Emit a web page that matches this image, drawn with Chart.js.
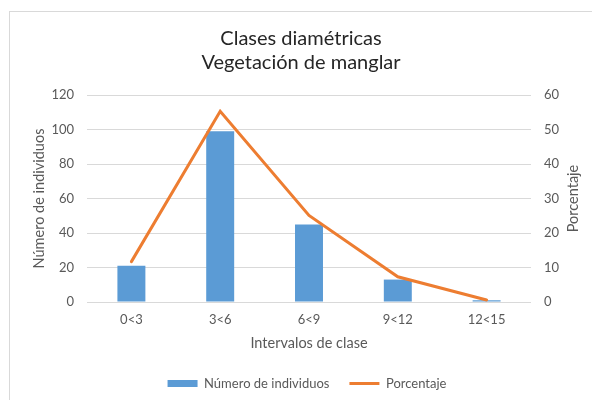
<!DOCTYPE html>
<html lang="es">
<head>
<meta charset="utf-8">
<title>Clases diamétricas</title>
<script src="https://cdn.jsdelivr.net/npm/chart.js@4/dist/chart.umd.min.js"></script>
<style>
  html, body { margin: 0; padding: 0; background: #fff; }
  #frame {
    position: absolute; left: 9px; top: 11px; width: 600px; height: 400px;
    border: 1px solid #d9d9d9; box-sizing: border-box;
  }
  #wrap { position: absolute; left: 0; top: 0; width: 592px; height: 400px; }
</style>
</head>
<body>
<div id="frame"></div>
<div id="wrap"><canvas id="chart" width="592" height="400"></canvas></div>
<script>
// Diameter classes (cm) and the number of trees counted in each
const categories = ['0<3', '3<6', '6<9', '9<12', '12<15'];
const individuos = [21, 99, 45, 13, 1];
const porcentaje = [11.7, 55.3, 25.1, 7.3, 0.6];
const leftTicks = [0, 20, 40, 60, 80, 100, 120];
const rightTicks = [0, 10, 20, 30, 40, 50, 60];

const FONT = 'Lato, "Open Sans", sans-serif';
const GREY = '#595959';
const TICK_SIZE = 13;
const AXIS_TITLE_SIZE = 14.5;

// Right-hand axis title, written bottom-to-top like the left one;
// the legend is nudged so it sits centred under the plot area
const extras = {
  id: 'extras',
  afterLayout(chart) {
    const lg = chart.legend;
    if (lg) { lg.left += 6; lg.right += 6; }
  },
  afterDraw(chart) {
    const s = chart.scales.y1;
    const a = chart.chartArea;
    const ctx = chart.ctx;
    ctx.save();
    ctx.translate(s.right - 19, (a.top + a.bottom) / 2);
    ctx.rotate(-Math.PI / 2);
    ctx.font = AXIS_TITLE_SIZE + 'px ' + FONT;
    ctx.fillStyle = GREY;
    ctx.textAlign = 'center';
    ctx.textBaseline = 'middle';
    ctx.fillText('Porcentaje', 0, 0);
    ctx.restore();
  }
};

new Chart(document.getElementById('chart'), {
  data: {
    labels: categories,
    datasets: [
      {
        type: 'line',
        label: 'Porcentaje',
        data: porcentaje,
        yAxisID: 'y1',
        borderColor: '#ed7d31',
        backgroundColor: '#ed7d31',
        borderWidth: 3,
        borderCapStyle: 'round',
        borderJoinStyle: 'miter',
        pointRadius: 0,
        tension: 0,
        pointStyle: 'line',
        order: 1
      },
      {
        type: 'bar',
        label: 'Número de individuos',
        data: individuos,
        yAxisID: 'y',
        backgroundColor: '#5b9bd5',
        borderWidth: 0,
        barPercentage: 0.315,
        categoryPercentage: 1,
        pointStyle: 'rect',
        order: 2
      }
    ]
  },
  options: {
    responsive: false,
    animation: false,
    layout: { padding: { left: 10, right: 0, top: 1, bottom: 0 } },
    plugins: {
      tooltip: { enabled: false },
      title: {
        display: true,
        text: ['Clases diamétricas', 'Vegetación de manglar'],
        color: '#262626',
        font: { family: FONT, size: 20, weight: 'normal', lineHeight: 1.2 },
        padding: { top: 26, bottom: 20 }
      },
      legend: {
        position: 'bottom',
        reverse: true,
        labels: {
          usePointStyle: true,
          pointStyleWidth: 30,
          boxHeight: 7,
          padding: 20,
          color: GREY,
          font: { family: FONT, size: 13 }
        }
      }
    },
    scales: {
      x: {
        grid: { display: false, drawTicks: false },
        border: { display: false },
        ticks: { color: GREY, font: { family: FONT, size: TICK_SIZE }, padding: 10 },
        title: {
          display: true,
          text: 'Intervalos de clase',
          color: GREY,
          font: { family: FONT, size: AXIS_TITLE_SIZE },
          padding: { top: 0, bottom: 5 }
        },
        afterFit(s) { s.height = 55; }
      },
      y: {
        position: 'left',
        min: 0,
        max: 120,
        afterBuildTicks(s) { s.ticks = leftTicks.map(v => ({ value: v })); },
        grid: { color: '#d9d9d9', drawTicks: false },
        border: { display: false },
        ticks: { color: GREY, font: { family: FONT, size: TICK_SIZE }, padding: 13 },
        title: {
          display: true,
          text: 'Número de individuos',
          color: GREY,
          font: { family: FONT, size: AXIS_TITLE_SIZE },
          padding: { top: 21, bottom: 0 }
        },
        afterFit(s) { s.width = 77; }
      },
      y1: {
        position: 'right',
        min: 0,
        max: 60,
        afterBuildTicks(s) { s.ticks = rightTicks.map(v => ({ value: v })); },
        grid: { display: false, drawTicks: false },
        border: { display: false },
        ticks: { color: GREY, font: { family: FONT, size: TICK_SIZE }, padding: 13 },
        afterFit(s) { s.width = 61; }
      }
    }
  },
  plugins: [extras]
});
</script>
</body>
</html>
